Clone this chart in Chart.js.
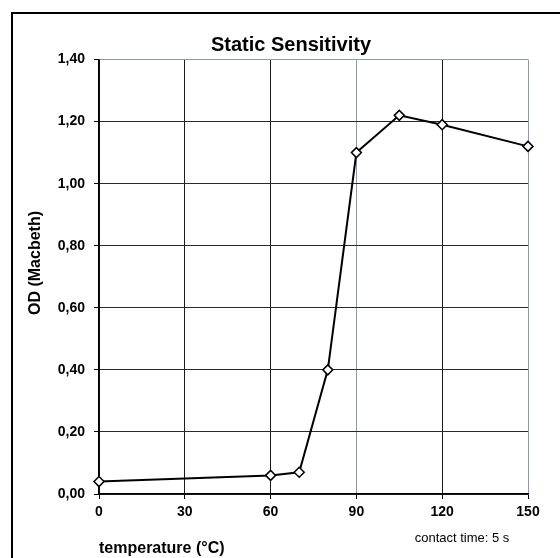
<!DOCTYPE html>
<html>
<head>
<meta charset="utf-8">
<script src="https://cdn.jsdelivr.net/npm/chart.js@4"></script>
<style>
  html, body { margin: 0; padding: 0; background: #fff; overflow: hidden; }
  #wrap { position: relative; width: 560px; height: 558px; overflow: hidden; }
  #frame { position: absolute; left: 11px; top: 12px; width: 700px; height: 700px;
           border-top: 2px solid #000; border-left: 2px solid #000; }
  canvas { position: absolute; left: 0; top: 0; }
  .lbl { position: absolute; white-space: nowrap; line-height: 1; color: #000;
         font-family: "Liberation Sans", Arial, sans-serif; transform: translate(-50%, -50%); }
  #title { left: 291px; top: 44px; font-size: 20px; font-weight: bold; }
  #ytitle { left: 34.5px; top: 263px; font-size: 16px; font-weight: bold;
            transform: translate(-50%, -50%) rotate(-90deg); }
  #note { left: 462px; top: 537px; font-size: 13px; }
</style>
</head>
<body>
<div id="wrap">
  <div id="frame"></div>
  <canvas id="c" width="560" height="558"></canvas>
  <div class="lbl" id="title">Static Sensitivity</div>
  <div class="lbl" id="ytitle">OD (Macbeth)</div>
  <div class="lbl" id="note">contact time: 5 s</div>
</div>
<script>
const temperature = [0, 60, 70, 80, 90, 105, 120, 150];
const odValues = [0.04, 0.06, 0.07, 0.40, 1.10, 1.22, 1.19, 1.12];
const xTickLabels = ['0', '30', '60', '90', '120', '150'];
const yTickLabels = ['0,00', '0,20', '0,40', '0,60', '0,80', '1,00', '1,20', '1,40'];
const xAxisTitle = 'temperature (°C)';

const FONT = '"Liberation Sans", Arial, sans-serif';
const GRAY = '#8f99ad';

new Chart(document.getElementById('c'), {
  type: 'line',
  data: {
    datasets: [{
      data: temperature.map((t, i) => ({ x: t, y: odValues[i] })),
      borderColor: '#000',
      borderWidth: 2,
      tension: 0,
      clip: false,
      pointStyle: 'rectRot',
      pointRadius: 5,
      pointBackgroundColor: '#fff',
      pointBorderColor: '#000',
      pointBorderWidth: 1.5
    }]
  },
  options: {
    responsive: false,
    animation: false,
    layout: { padding: { left: 0, right: 32, top: 59.5, bottom: 0 } },
    plugins: { legend: { display: false }, title: { display: false }, tooltip: { enabled: false } },
    scales: {
      x: {
        type: 'linear',
        min: 0, max: 150,
        afterFit: s => { s.height = 64; },
        ticks: {
          stepSize: 30,
          padding: 5,
          color: '#000',
          font: { family: FONT, size: 14, weight: 'bold' },
          callback: (v, i) => xTickLabels[i]
        },
        grid: {
          color: c => (c.tick && (c.tick.value === 90 || c.tick.value === 150)) ? GRAY : '#1a1a1a',
          lineWidth: 1,
          tickLength: 5,
          tickColor: '#000'
        },
        border: { color: '#000', width: 1.5 },
        title: {
          display: true,
          text: xAxisTitle,
          align: 'start',
          color: '#000',
          font: { family: FONT, size: 16, weight: 'bold' },
          padding: { top: 0, bottom: 0 }
        }
      },
      y: {
        type: 'linear',
        min: 0, max: 1.4,
        afterFit: s => { s.width = 99; },
        ticks: {
          stepSize: 0.2,
          padding: 9,
          color: '#000',
          font: { family: FONT, size: 14, weight: 'bold' },
          callback: (v, i) => yTickLabels[i]
        },
        grid: {
          color: c => (c.tick && Math.abs(c.tick.value - 1.4) < 1e-6) ? GRAY : '#2a2a2a',
          lineWidth: 1,
          tickLength: 5,
          tickColor: '#000'
        },
        border: { color: '#000', width: 1.5 }
      }
    }
  }
});
</script>
</body>
</html>
